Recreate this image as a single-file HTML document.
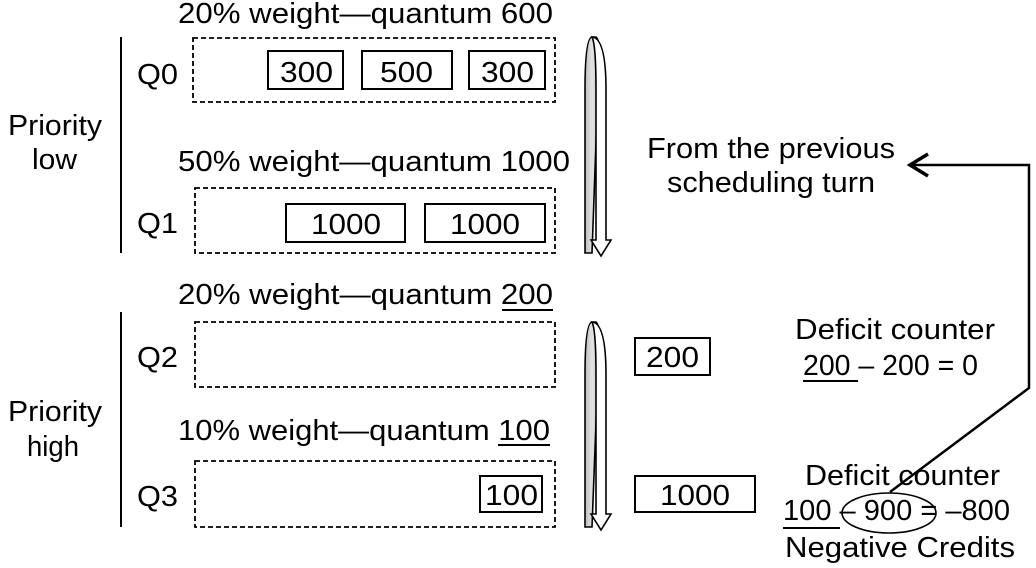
<!DOCTYPE html>
<html><head><meta charset="utf-8"><style>
html,body{margin:0;padding:0;background:#fff;}
svg{display:block;}
text{font-family:"Liberation Sans",Arial,sans-serif;font-size:29px;fill:#000;}
</style></head><body>
<svg width="1036" height="568" viewBox="0 0 1036 568" xmlns="http://www.w3.org/2000/svg">
<defs>
<linearGradient id="g" x1="0" x2="1"><stop offset="0" stop-color="#bbb"/><stop offset="0.5" stop-color="#e4e4e4"/><stop offset="1" stop-color="#bbb"/></linearGradient>
</defs>
<g fill="none" stroke="#000" stroke-width="2">
<line x1="121" y1="37" x2="121" y2="253"/>
<line x1="121" y1="312" x2="121" y2="527"/>
<g stroke-dasharray="5,3" stroke-width="1.8">
<rect x="193" y="38" width="362" height="64"/>
<rect x="195" y="188" width="360" height="65"/>
<rect x="195" y="322" width="360" height="65"/>
<rect x="195" y="461" width="360" height="66"/>
</g>
<rect x="268" y="51" width="75" height="38"/>
<rect x="362" y="51" width="90" height="38"/>
<rect x="469" y="51" width="76" height="38"/>
<rect x="286" y="204" width="119" height="38"/>
<rect x="425" y="204" width="120" height="38"/>
<rect x="480" y="476" width="62" height="36"/>
<rect x="635" y="338" width="75" height="37"/>
<rect x="635" y="476" width="120" height="36"/>
<line x1="502" y1="310" x2="553" y2="310" />
<line x1="498" y1="445" x2="550" y2="445" />
<line x1="803" y1="381" x2="858" y2="381" />
<line x1="783" y1="528" x2="840" y2="528" />
<ellipse cx="889" cy="513" rx="47" ry="20" stroke-width="1.6"/>
<polyline points="890,492 1029,388 1029,165 910,165" stroke-width="2.5"/>
<polyline points="928,154 910,165 928,176" stroke-width="3.5"/>
</g>
<g stroke="#000" stroke-width="1.6">
<path d="M585,253 L585,90 Q585,38 592,37 L596,37 Q600,40 599,60 L592,253 Z" fill="url(#g)"/>
<path d="M592,37 Q606,38 606,90 L606,240 L611,240 L601,256 L591,240 L596,240 L596,90 Q596,45 592,37 Z" fill="#fff"/>
</g>
<g stroke="#000" stroke-width="1.6">
<path d="M585,527 L585,375 Q585,323 592,322 L596,322 Q600,325 599,345 L592,527 Z" fill="url(#g)"/>
<path d="M592,322 Q606,323 606,375 L606,514 L611,514 L601,530 L591,514 L596,514 L596,375 Q596,330 592,322 Z" fill="#fff"/>
</g>
<g lengthAdjust="spacingAndGlyphs">
<text x="178" y="23" textLength="375" lengthAdjust="spacingAndGlyphs">20% weight—quantum 600</text>
<text x="137" y="84" textLength="41" lengthAdjust="spacingAndGlyphs">Q0</text>
<text x="280" y="82" textLength="53" lengthAdjust="spacingAndGlyphs">300</text>
<text x="380" y="82" textLength="53" lengthAdjust="spacingAndGlyphs">500</text>
<text x="481" y="82" textLength="53" lengthAdjust="spacingAndGlyphs">300</text>
<text x="8" y="135" textLength="94" lengthAdjust="spacingAndGlyphs">Priority</text>
<text x="32" y="169" textLength="45" lengthAdjust="spacingAndGlyphs">low</text>
<text x="178" y="171" textLength="392" lengthAdjust="spacingAndGlyphs">50% weight—quantum 1000</text>
<text x="137" y="233" textLength="41" lengthAdjust="spacingAndGlyphs">Q1</text>
<text x="311" y="234" textLength="70" lengthAdjust="spacingAndGlyphs">1000</text>
<text x="450" y="234" textLength="70" lengthAdjust="spacingAndGlyphs">1000</text>
<text x="178" y="304" textLength="375" lengthAdjust="spacingAndGlyphs">20% weight—quantum 200</text>
<text x="137" y="367" textLength="41" lengthAdjust="spacingAndGlyphs">Q2</text>
<text x="8" y="421" textLength="94" lengthAdjust="spacingAndGlyphs">Priority</text>
<text x="27" y="456" textLength="52" lengthAdjust="spacingAndGlyphs">high</text>
<text x="178" y="440" textLength="372" lengthAdjust="spacingAndGlyphs">10% weight—quantum 100</text>
<text x="137" y="506" textLength="41" lengthAdjust="spacingAndGlyphs">Q3</text>
<text x="485" y="505" textLength="53" lengthAdjust="spacingAndGlyphs">100</text>
<text x="646" y="367" textLength="53" lengthAdjust="spacingAndGlyphs">200</text>
<text x="660" y="505" textLength="70" lengthAdjust="spacingAndGlyphs">1000</text>
<text x="647" y="158" textLength="248" lengthAdjust="spacingAndGlyphs">From the previous</text>
<text x="667" y="192" textLength="208" lengthAdjust="spacingAndGlyphs">scheduling turn</text>
<text x="795" y="339" textLength="200" lengthAdjust="spacingAndGlyphs">Deficit counter</text>
<text x="803" y="375" textLength="175" lengthAdjust="spacingAndGlyphs">200 – 200 = 0</text>
<text x="805" y="485" textLength="195" lengthAdjust="spacingAndGlyphs">Deficit counter</text>
<text x="783" y="520" textLength="227" lengthAdjust="spacingAndGlyphs">100 – 900 = –800</text>
<text x="785" y="557" textLength="230" lengthAdjust="spacingAndGlyphs">Negative Credits</text>
</g>
</svg>
</body></html>
